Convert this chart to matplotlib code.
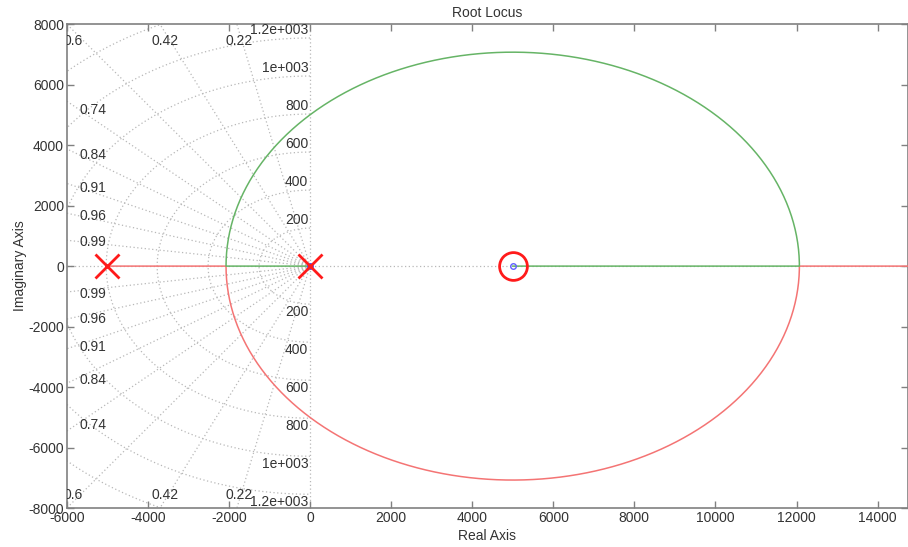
'''
Root locus of K(5000 - s) / (s (s + 5000)) with an s-plane damping grid.
'''

import numpy as np
import matplotlib
matplotlib.use('Agg')
import matplotlib.pyplot as plt


POLES = [-5000.0, 0.0]
ZEROS = [5000.0]
ZETA = [0.22, 0.42, 0.6, 0.74, 0.84, 0.91, 0.96, 0.99]
FREQ_HZ = [200, 400, 600, 800, 1000, 1200, 1400]
FREQ_LABELS = ['200', '400', '600', '800', '1e+003', '1.2e+003', '']
X_TICKS = list(range(-6000, 14001, 2000))
Y_TICKS = list(range(-8000, 8001, 2000))
XLIM = (-6000, 14750)
YLIM = (-8000, 8000)

GRID_COLOR = '#b8b8b8'
TEXT_COLOR = '#333333'
RED = '#f47474'
GREEN = '#66b466'
FS = 10

plt.rcParams['font.family'] = ['Liberation Sans', 'DejaVu Sans']
plt.rcParams['axes.unicode_minus'] = False


def char_poly(gain):
    '''
    Closed loop polynomial s(s+5000) + K(5000 - s).
    '''
    den = np.poly(POLES)
    num = -np.poly(ZEROS)
    num = np.concatenate([np.zeros(len(den) - len(num)), num])
    return den + gain * num


def locus_branches():
    '''
    Sweep the gain and split the two closed loop roots into branches.
    '''
    # discriminant of s^2 + (p1 - K) s + (p2 + z K) as a polynomial in K
    p = np.poly(POLES)
    z = ZEROS[0]
    a, b, c = 1.0, -2 * p[1] - 4 * z, p[1] ** 2 - 4 * p[2]
    k_break = np.sort(np.roots([a, b, c]).real)
    u = np.linspace(0, 1, 200)
    # roots move like sqrt(K - K_break), so crowd the gains near the breaks
    gains = np.concatenate([
        k_break[0] * (1 - (1 - u) ** 2),
        k_break[0] + (k_break[1] - k_break[0]) * (1 - np.cos(np.pi * u)) / 2,
        k_break[1] * (1 + u ** 2),
        k_break[1] * np.geomspace(2, 2e3, 200),
    ])
    k_mid = np.mean(k_break)
    green, red = [], []
    for gain in gains:
        r = np.roots(char_poly(gain))
        if abs(r[0].imag) > 1e-6:
            up = r[np.argmax(r.imag)]
            green.append(up)
            red.append(np.conj(up))
        else:
            lo, hi = np.sort(r.real)
            if gain < k_mid:
                green.append(hi)
                red.append(lo)
            else:
                green.append(lo)
                red.append(hi)
    return np.array(green, dtype=complex), np.array(red, dtype=complex)


def draw_sgrid(ax):
    '''
    Dotted damping lines and natural frequency arcs in the left half plane.
    '''
    reach = 40000
    dot = dict(color=GRID_COLOR, lw=0.9, ls=(0, (1, 2)), zorder=1)
    ax.axhline(0, **dot)
    ax.axvline(0, **dot)
    for zeta in ZETA:
        th = np.arccos(zeta)
        for sgn in (1, -1):
            ax.plot([0, -reach * np.cos(th)], [0, sgn * reach * np.sin(th)], **dot)
    phi = np.linspace(np.pi / 2, 3 * np.pi / 2, 300)
    for f in FREQ_HZ:
        wn = 2 * np.pi * f
        ax.plot(wn * np.cos(phi), wn * np.sin(phi), **dot)

    # frequency labels sit against the imaginary axis
    for f, lab in zip(FREQ_HZ, FREQ_LABELS):
        if not lab:
            continue
        wn = 2 * np.pi * f
        ax.text(-40, wn + 40, lab, ha='right', va='bottom', fontsize=FS,
                color=TEXT_COLOR, clip_on=True)
        ax.text(-40, -wn - 40, lab, ha='right', va='top', fontsize=FS,
                color=TEXT_COLOR, clip_on=True)

    # damping labels along the left and top edges
    x_left = XLIM[0] + 320
    y_top = YLIM[1] - 550
    for zeta in ZETA:
        th = np.arccos(zeta)
        slope = np.tan(th)
        lab = f'{zeta:g}'
        if -XLIM[0] * slope < y_top:
            y = -x_left * slope
            ax.text(x_left, y, lab, ha='left', va='center', fontsize=FS,
                    color=TEXT_COLOR, clip_on=True)
            ax.text(x_left, -y - 100, lab, ha='left', va='center',
                    fontsize=FS, color=TEXT_COLOR, clip_on=True)
        else:
            x = -1.04 * y_top / slope
            if x - 300 < XLIM[0]:
                x = XLIM[0] + 150
            ax.text(x, y_top, lab, ha='center', va='center', fontsize=FS,
                    color=TEXT_COLOR, clip_on=True)
            ax.text(x, -y_top - 120, lab, ha='center', va='center',
                    fontsize=FS, color=TEXT_COLOR, clip_on=True)


def main() -> None:
    fig = plt.figure(figsize=(9.08, 5.47), dpi=100)
    ax = fig.add_axes([0.0735, 0.071, 0.9265, 0.885])

    draw_sgrid(ax)

    green, red = locus_branches()
    ax.plot(red.real, red.imag, color=RED, lw=1.1, zorder=3)
    ax.plot(green.real, green.imag, color=GREEN, lw=1.1, zorder=3)

    ax.plot(POLES, np.zeros(len(POLES)), 'x', color='#ff1a1a', ms=17,
            mew=2, zorder=5)
    ax.plot(0, 0, 'o', color='#5050ff', ms=4, mew=1, zorder=4)
    ax.plot(ZEROS, np.zeros(len(ZEROS)), 'o', mfc='none', mec='#6060ff',
            ms=4, mew=1, zorder=5)
    ax.plot(ZEROS, np.zeros(len(ZEROS)), 'o', mfc='none', mec='#ff1a1a',
            ms=20, mew=2, zorder=5)

    ax.set_xlim(*XLIM)
    ax.set_ylim(*YLIM)
    ax.set_xticks(X_TICKS)
    ax.set_yticks(Y_TICKS)
    ax.tick_params(direction='in', length=5, width=1, color='#808080',
                   labelcolor=TEXT_COLOR, labelsize=FS, top=True, right=True,
                   pad=2)
    for spine in ax.spines.values():
        spine.set_color('#808080')
        spine.set_linewidth(1.2)
    ax.set_title('Root Locus', fontsize=FS, color=TEXT_COLOR, pad=5)
    ax.set_xlabel('Real Axis', fontsize=FS, color=TEXT_COLOR, labelpad=3)
    ax.set_ylabel('Imaginary Axis', fontsize=FS, color=TEXT_COLOR,
                  labelpad=1)

    fig.savefig('out.png', dpi=100)


if __name__ == '__main__':
    main()
